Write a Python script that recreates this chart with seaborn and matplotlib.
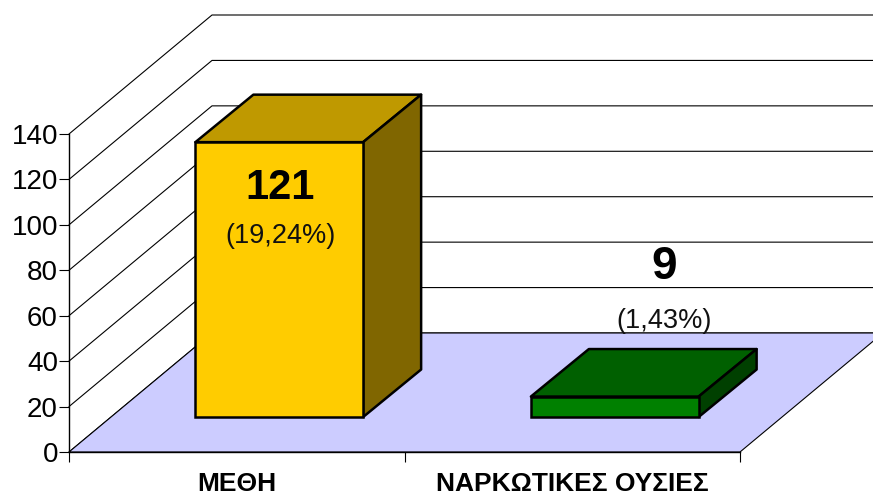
import matplotlib
matplotlib.use("Agg")
import matplotlib.pyplot as plt
import seaborn as sns
from matplotlib.patches import Polygon

# Data
categories = ["ΜΕΘΗ", "ΝΑΡΚΩΤΙΚΕΣ ΟΥΣΙΕΣ"]
counts = [121, 9]
percents = ["(19,24%)", "(1,43%)"]
y_ticks = [0, 20, 40, 60, 80, 100, 120, 140]
bar_colors = ["#FFCC00", "#008000"]
top_colors = ["#BF9900", "#006000"]
side_colors = ["#806600", "#004000"]

W, H = 873, 495
sns.set_theme(style="white")
plt.rcParams["font.family"] = ["Liberation Sans", "DejaVu Sans"]

fig = plt.figure(figsize=(W / 100, H / 100), dpi=100)


def box(x0, x1, y_top, y_bottom):
    return [x0 / W, 1 - y_bottom / H, (x1 - x0) / W, (y_bottom - y_top) / H]


# front plane of the chart, holds the axis and the walls
ax = fig.add_axes(box(69, 740, 134, 452))
ax.set_xlim(-0.5, 1.5)
ax.set_ylim(0, 140)

unit_x = 671 / 2
unit_y = 318 / 140
wall_dx = 143 / unit_x
wall_dy = 119 / unit_y

# floor
ax.add_patch(Polygon([(-0.5, 0), (1.5, 0), (1.5 + wall_dx, wall_dy), (-0.5 + wall_dx, wall_dy)],
                     closed=True, facecolor="#CCCCFF", edgecolor="black", lw=0.8, clip_on=False, zorder=1))

# gridlines on the side and back walls
for v in y_ticks:
    ax.plot([-0.5, -0.5 + wall_dx, 1.5 + wall_dx], [v, v + wall_dy, v + wall_dy],
            color="black", lw=0.8, clip_on=False, zorder=0.5)

ax.set_yticks(y_ticks)
ax.set_xticks([-0.5, 0.5, 1.5], labels=["", "", ""])
ax.set_xticks([0, 1], labels=categories, minor=True)
ax.tick_params(axis="y", which="major", left=True, length=7, width=0.8, color="black", labelsize=20, pad=1, labelcolor="black")
ax.tick_params(axis="x", which="major", bottom=True, length=7, width=0.8, color="black")
ax.tick_params(axis="x", which="minor", bottom=False, labelsize=19, pad=10.5, labelcolor="black")
for t in ax.get_xticklabels(minor=True):
    t.set_fontweight("bold")
sns.despine(ax=ax)
for s in ["left", "bottom"]:
    ax.spines[s].set_color("black")
    ax.spines[s].set_linewidth(1)
    ax.spines[s].set_zorder(3)
ax.patch.set_alpha(0)

# bars stand inside the floor, so they get their own shifted axes
ax2 = fig.add_axes(box(111.5, 782.5, 99, 417))
ax2.patch.set_alpha(0)
sns.barplot(x=categories, y=counts, hue=categories, palette=bar_colors, saturation=1, width=0.5,
            edgecolor="black", linewidth=1.8, legend=False, ax=ax2)
ax2.set_xlim(-0.5, 1.5)
ax2.set_ylim(0, 140)
ax2.axis("off")

bar_dx = 58 / unit_x
bar_dy = 47.5 / unit_y
for i, p in enumerate(ax2.patches):
    p.set_zorder(3)
    p.set_clip_on(False)
    x0, x1 = p.get_x(), p.get_x() + p.get_width()
    h = p.get_height()
    ax2.add_patch(Polygon([(x0, h), (x1, h), (x1 + bar_dx, h + bar_dy), (x0 + bar_dx, h + bar_dy)], closed=True,
                          facecolor=top_colors[i], edgecolor="black", lw=1.8, clip_on=False, zorder=2, joinstyle="round"))
    ax2.add_patch(Polygon([(x1, 0), (x1 + bar_dx, bar_dy), (x1 + bar_dx, h + bar_dy), (x1, h)], closed=True,
                          facecolor=side_colors[i], edgecolor="black", lw=1.8, clip_on=False, zorder=2, joinstyle="round"))

# value labels, pixel offsets from the top of each bar
count_offsets = [(1, -46), (49, 130)]
count_sizes = [30, 33]
percent_offsets = [(1, -94), (49, 76)]
for i in range(len(categories)):
    ax2.annotate(str(counts[i]), (i, counts[i]), xytext=count_offsets[i], textcoords="offset pixels",
                 ha="center", va="center", fontsize=count_sizes[i], fontweight="bold", color="black", zorder=5)
    ax2.annotate(percents[i], (i, counts[i]), xytext=percent_offsets[i], textcoords="offset pixels",
                 ha="center", va="center", fontsize=19.5, color="#111111", zorder=5)

fig.savefig("out.png", dpi=100)
